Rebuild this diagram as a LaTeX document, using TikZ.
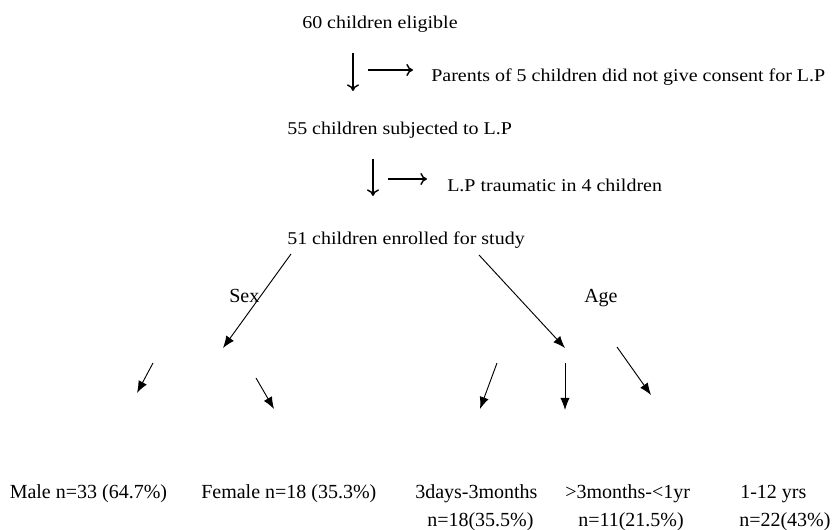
\documentclass[tikz,border=0pt]{standalone}
\usepackage{fontspec}
\setmainfont{Liberation Serif}
\newfontfamily\widefont[FakeStretch=1.11]{Liberation Serif}
\usetikzlibrary{arrows.meta}
\begin{document}
\begin{tikzpicture}[x=0.75pt,y=-0.75pt,
  top/.style={anchor=base west,inner sep=0pt,font=\widefont\fontsize{13.5}{16}\selectfont},
  bot/.style={anchor=base west,inner sep=0pt,font=\fontsize{15}{18}\selectfont},
  glyph/.style={-{To[length=5pt,width=9pt]},line width=1.1pt},
  tri/.style={-{Latex[length=9pt,width=7pt]},line width=0.7pt}]
  \useasboundingbox (0,0) rectangle (832,530);
  % flow of children
  \node[top] (eligible) at (302,29) {60 children eligible};
  \node[top] (noconsent) at (431,82) {Parents of 5 children did not give consent for L.P};
  \node[top] (subjected) at (287,135) {55 children subjected to L.P};
  \node[top] (traumatic) at (447,192) {L.P traumatic in 4 children};
  \node[top] (enrolled) at (287,245) {51 children enrolled for study};
  \coordinate (d1s) at (353,53);  \coordinate (d1e) at (353,91);
  \coordinate (r1s) at (368,70);  \coordinate (r1e) at (413,70);
  \coordinate (d2s) at (373,159); \coordinate (d2e) at (373,196);
  \coordinate (r2s) at (388,179); \coordinate (r2e) at (427,179);
  \draw[glyph] (d1s) -- (d1e);
  \draw[glyph] (r1s) -- (r1e);
  \draw[glyph] (d2s) -- (d2e);
  \draw[glyph] (r2s) -- (r2e);
  % groups
  \node[bot] (sex) at (229,303) {Sex};
  \node[bot] (age) at (584,303) {Age};
  \coordinate (sexs) at (291,254); \coordinate (sexe) at (223,348);
  \coordinate (ages) at (479,255); \coordinate (agee) at (565,348);
  \draw[tri] (sexs) -- (sexe);
  \draw[tri] (ages) -- (agee);
  % small arrows
  \coordinate (m1) at (153,363); \coordinate (m2) at (137,393);
  \coordinate (f1) at (256,378); \coordinate (f2) at (274,409);
  \coordinate (a1) at (497,363); \coordinate (a2) at (480,409);
  \coordinate (b1) at (565,363); \coordinate (b2) at (565,410);
  \coordinate (c1) at (617,347); \coordinate (c2) at (651,395);
  \draw[tri] (m1) -- (m2);
  \draw[tri] (f1) -- (f2);
  \draw[tri] (a1) -- (a2);
  \draw[tri] (b1) -- (b2);
  \draw[tri] (c1) -- (c2);
  % results
  \node[bot] (male) at (9.5,498.5) {Male n=33 (64.7\%)};
  \node[bot] (female) at (201,498.5) {Female n=18 (35.3\%)};
  \node[bot] (young) at (415,498.5) {3days-3months};
  \node[bot] (infant) at (565,498.5) {>3months-<1yr};
  \node[bot] (older) at (740,498.5) {1-12 yrs};
  \node[bot] (youngn) at (427,526.5) {n=18(35.5\%)};
  \node[bot] (infantn) at (578,526.5) {n=11(21.5\%)};
  \node[bot] (oldern) at (739,526.5) {n=22(43\%)};
\end{tikzpicture}
\end{document}
